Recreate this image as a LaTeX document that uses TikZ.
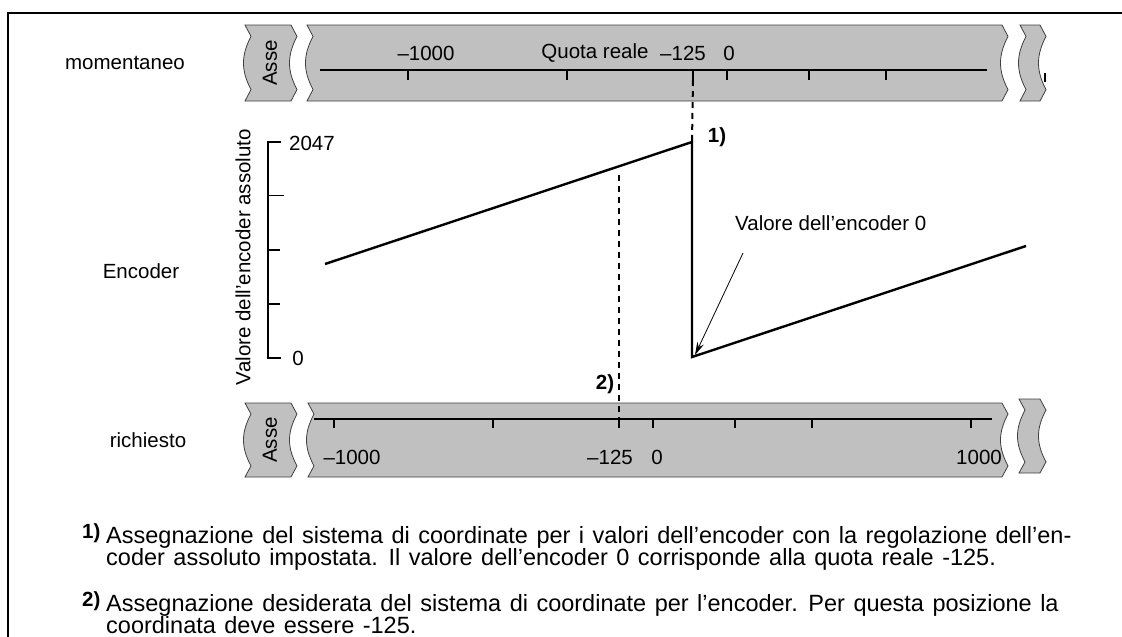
\documentclass[tikz,border=0pt]{standalone}
\usepackage{fontspec}
\setmainfont{Liberation Sans}
\newfontfamily\notefont[WordSpace=1.3]{Liberation Sans}
\usetikzlibrary{arrows.meta}
\definecolor{bandgray}{RGB}{192,192,192}

\newcommand{\tornpiece}[4]{%
	\pgfmathsetmacro{\ya}{#3+0.15*(#4-#3)}
	\pgfmathsetmacro{\yb}{#3+0.4*(#4-#3)}
	\pgfmathsetmacro{\yc}{#3+0.6*(#4-#3)}
	\pgfmathsetmacro{\yd}{#3+0.85*(#4-#3)}
	\pgfmathsetmacro{\xra}{#2+6}
	\pgfmathsetmacro{\xrb}{#2-4}
	\pgfmathsetmacro{\xla}{#1+6}
	\pgfmathsetmacro{\xlb}{#1-4}
	\draw[band] (#1,#3) -- (#2,#3) -- (\xra,\ya) .. controls (\xrb,\yb) and (\xrb,\yc) .. (\xra,\yd) -- (#2,#4)
		-- (#1,#4) -- (\xla,\yd) .. controls (\xlb,\yc) and (\xlb,\yb) .. (\xla,\ya) -- cycle;
}

\begin{document}
\begin{tikzpicture}[x=1pt, y=-1pt, every node/.style={font=\fontsize{20.5}{22}\selectfont, inner sep=0pt},
	band/.style={fill=bandgray, draw=black!75, line width=0.8pt},
	scaleline/.style={line width=2pt},
	curve/.style={line width=2.4pt, line join=miter},
	guide/.style={line width=2pt, dash pattern=on 6pt off 5pt},
	notemark/.style={font=\fontsize{20.5}{22}\selectfont\bfseries},
	note/.style={anchor=base west, font=\notefont\fontsize{23.5}{22}\selectfont}]
	\useasboundingbox (0,0) rectangle (1122,637);
	\draw[line width=2pt] (1122,13) -- (8,13) -- (8,637);

	\tornpiece{245}{291}{25}{101}
	\tornpiece{307}{1002}{25}{101}
	\tornpiece{1020}{1040}{25}{101}
	\tornpiece{245}{291}{403}{477}
	\tornpiece{308}{1002}{403}{477}
	\tornpiece{1019}{1040}{399}{473}

	\node (mom) at (125,63) {momentaneo};
	\node (enc) at (141,271) {Encoder};
	\node (ric) at (148,440) {richiesto};
	\node[rotate=90] (asseA) at (270,63) {Asse};
	\node[rotate=90] (asseB) at (270,440) {Asse};

	\draw[scaleline] (320,70) -- (987,70);
	\foreach \x in {408,567,693,727,809,886}
		\draw[scaleline] (\x,70) -- (\x,80);
	\draw[scaleline] (1045,73) -- (1045,82);
	\node (ta) at (426,53) {–1000};
	\node (quota) at (595,53) {Quota reale};
	\node (tb) at (683,53) {–125};
	\node (tc) at (729,53) {0};

	\draw[scaleline] (314,419) -- (992,419);
	\foreach \x in {334,493,619,653,735,812,971}
		\draw[scaleline] (\x,419) -- (\x,428);
	\node (ba) at (352,457) {–1000};
	\node (bb) at (610,457) {–125};
	\node (bc) at (657,457) {0};
	\node (bd) at (979,457) {1000};

	\draw[curve] (281,142) -- (268,142) -- (268,358) -- (281,358);
	\draw[line width=0.8pt] (268,195) -- (284,195);
	\foreach \y in {250,304}
		\draw[curve] (268,\y) -- (280,\y);
	\node (ymax) at (312,143) {2047};
	\node (ymin) at (298,358) {0};
	\node[rotate=90] (ylab) at (243,257) {Valore dell’encoder assoluto};

	\coordinate (start) at (325,264);
	\coordinate (peak) at (692,142);
	\coordinate (valley) at (692,357);
	\coordinate (stop) at (1026,246);
	\draw[curve] (start) -- (peak) -- (valley) -- (stop);

	\coordinate (tick1) at (693,80);
	\coordinate (guide2) at (619,175);
	\coordinate (tick2) at (619,419);
	\draw[guide] (tick1) -- (peak);
	\draw[guide] (guide2) -- (tick2);
	\node[notemark] (m1) at (717,137) {1)};
	\node[notemark] (m2) at (605,384) {2)};

	\node[anchor=west] (zero) at (735,223) {Valore dell’encoder 0};
	\coordinate (tail) at (743,253);
	\draw[line width=0.8pt, -{Stealth[length=13pt, width=7pt]}] (tail) -- ([shift={(3,-2)}]valley);

	\node[notemark, anchor=base west] (f1) at (82,538) {1)};
	\node[note] (f1a) at (106,543) {Assegnazione del sistema di coordinate per i valori dell’encoder con la regolazione dell’en-};
	\node[note] (f1b) at (106,565) {coder assoluto impostata. Il valore dell’encoder 0 corrisponde alla quota reale -125.};
	\node[notemark, anchor=base west] (f2) at (82,606) {2)};
	\node[note] (f2a) at (106,611) {Assegnazione desiderata del sistema di coordinate per l’encoder. Per questa posizione la};
	\node[note] (f2b) at (106,633) {coordinata deve essere -125.};
\end{tikzpicture}
\end{document}
